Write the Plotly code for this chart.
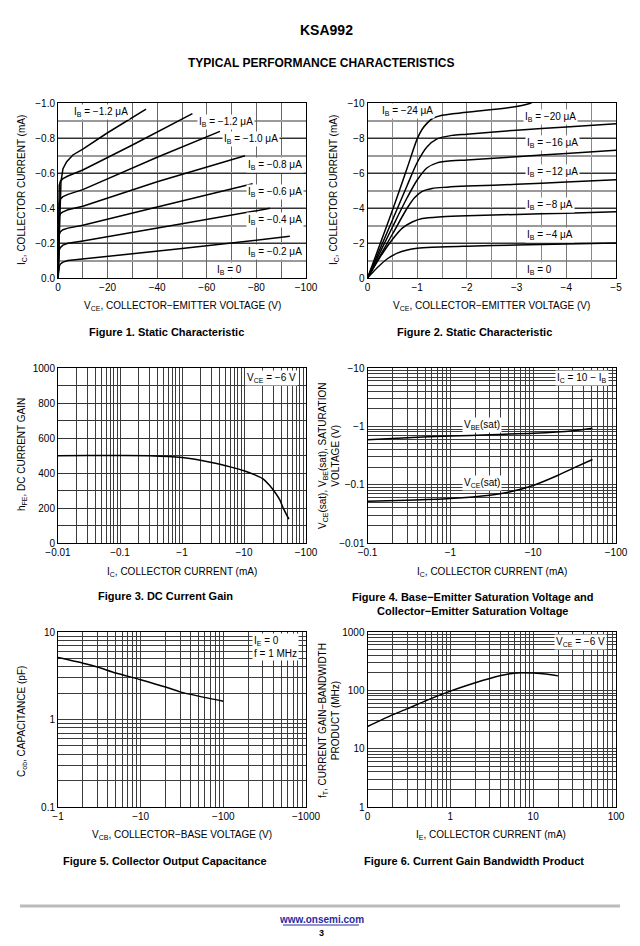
import plotly.graph_objects as go

FONT = "Liberation Sans, Arial, Helvetica, sans-serif"
# the page body adds an 8 px margin, so the figure is sized to fit the window
OFF = 8
W, H = 624, 930

# ---------------- Figure 1: Static characteristic (0 .. -100 V) ----------------
f1_labels = ["−1.2", "−1.2", "−1.0", "−0.8", "−0.6", "−0.4", "−0.2"]
f1_vce = [
    [0, -0.8, -1.2, -2, -3.5, -6, -10, -20, -35.5],
    [0, -0.2, -0.5, -1, -2, -4, -10, -30, -54.2],
    [0, -0.2, -0.5, -1, -2, -4, -10, -40, -65.3],
    [0, -0.2, -0.5, -1, -2, -4, -10, -40, -75.4],
    [0, -0.2, -0.5, -1, -2, -4, -10, -40, -78.5],
    [0, -0.2, -0.5, -1, -2, -4, -10, -50, -85.5],
    [0, -0.3, -0.6, -1, -2, -4, -10, -50, -93.5],
]
f1_ic = [
    [0, -0.3, -0.55, -0.625, -0.665, -0.703, -0.737, -0.83, -0.965],
    [0, -0.3, -0.53, -0.555, -0.568, -0.583, -0.617, -0.76, -0.939],
    [0, -0.25, -0.43, -0.452, -0.465, -0.478, -0.505, -0.69, -0.838],
    [0, -0.2, -0.35, -0.368, -0.378, -0.39, -0.41, -0.55, -0.699],
    [0, -0.15, -0.25, -0.265, -0.276, -0.285, -0.302, -0.406, -0.539],
    [0, -0.1, -0.16, -0.175, -0.188, -0.198, -0.212, -0.31, -0.398],
    [0, -0.05, -0.07, -0.08, -0.091, -0.1, -0.109, -0.168, -0.238],
]
f1_xticks = [0, -20, -40, -60, -80, -100]
f1_yticks = [0, -0.2, -0.4, -0.6, -0.8, -1.0]

# ---------------- Figure 2: Static characteristic (0 .. -5 V) ----------------
f2_labels = ["−24", "−20", "−16", "−12", "−8", "−4"]
f2_vce = [
    [0, -0.5, -0.8, -1.0, -1.1, -1.2, -1.3, -1.5, -2, -3, -3.3],
    [0, -0.5, -0.8, -1.0, -1.2, -1.4, -1.7, -2, -3, -4, -5],
    [0, -0.5, -0.8, -1.0, -1.2, -1.4, -1.7, -2, -3, -4, -5],
    [0, -0.5, -0.8, -0.95, -1.1, -1.3, -1.6, -2, -3, -4, -5],
    [0, -0.3, -0.5, -0.7, -0.9, -1.1, -1.5, -2, -3, -4, -5],
    [0, -0.2, -0.4, -0.6, -0.8, -1.0, -1.3, -2, -3, -4, -5],
]
f2_ic = [
    [0, -3.85, -6.3, -7.95, -8.5, -8.85, -9.1, -9.3, -9.47, -9.8, -10.0],
    [0, -3.3, -5.3, -6.6, -7.5, -7.95, -8.15, -8.22, -8.45, -8.63, -8.82],
    [0, -2.9, -4.6, -5.6, -6.3, -6.58, -6.7, -6.74, -6.93, -7.12, -7.3],
    [0, -2.5, -4.0, -4.6, -4.95, -5.12, -5.19, -5.25, -5.35, -5.48, -5.62],
    [0, -1.4, -2.2, -2.85, -3.2, -3.4, -3.5, -3.56, -3.63, -3.7, -3.78],
    [0, -0.6, -1.1, -1.42, -1.6, -1.7, -1.76, -1.82, -1.88, -1.94, -2.0],
]
f2_xticks = [0, -1, -2, -3, -4, -5]
f2_yticks = [0, -2, -4, -6, -8, -10]

# ---------------- Figure 3: DC current gain ----------------
f3_ic = [-0.01, -0.03, -0.1, -0.3, -1, -3, -6, -10, -20, -26, -33, -38, -42.5, -48, -53]
f3_hfe = [499, 500, 500, 499, 488, 460, 435, 413, 368, 328, 280, 245, 203, 165, 136]
f3_yticks = [0, 200, 400, 600, 800, 1000]

# ---------------- Figure 4: saturation voltages ----------------
f4_ic_be = [-0.1, -0.3, -1, -3, -10, -30, -52]
f4_vbe = [-0.59, -0.64, -0.68, -0.72, -0.76, -0.84, -0.93]
f4_ic_ce = [-0.1, -0.3, -1, -3, -5, -10, -20, -30, -52]
f4_vce = [-0.052, -0.054, -0.058, -0.066, -0.074, -0.097, -0.145, -0.19, -0.27]

# ---------------- Figure 5: output capacitance ----------------
f5_vcb = [-1, -2, -3, -5, -10, -20, -30, -50, -100]
f5_cob = [5.1, 4.4, 3.98, 3.4, 2.85, 2.35, 2.07, 1.85, 1.62]

# ---------------- Figure 6: gain-bandwidth product ----------------
f6_ie = [0.1, 0.2, 0.3, 0.5, 1, 2, 3, 5, 7, 10, 15, 20]
f6_ft = [24, 38, 48, 66, 97, 135, 160, 190, 200, 198, 188, 177]

# log-axis tick labels
f3_xlab = ["−0.01", "−0.1", "−1", "−10", "−100"]
f4_xlab = ["−0.1", "−1", "−10", "−100"]
f4_ylab = ["−0.01", "−0.1", "−1", "−10"]
f5_xlab = ["−1", "−10", "−100", "−1000"]
f5_ylab = ["0.1", "1", "10"]
f6_xlab = ["0", "1", "10", "100"]
f6_ylab = ["1", "10", "100", "1000"]


def px(x):
    return (x - OFF) / W


def py(y):
    return 1 - (y - OFF) / H


TICKFONT = dict(family=FONT, size=10, color="black")
MAJ = "#333333"
MIN = "#9a9a9a"
LOGG = "#3c3c3c"


def base_axis(dom, anchor):
    return dict(domain=dom, anchor=anchor, showline=True, mirror=True, automargin=False,
                linecolor="black", linewidth=1, ticks="", tickfont=TICKFONT,
                zeroline=False, showgrid=True, gridcolor=MAJ, gridwidth=1,
                fixedrange=True)


def log_ticks(e0, e1, labels):
    vals, text = [], []
    for e in range(e0, e1):
        for m in range(1, 10):
            vals.append(m * 10 ** e)
            text.append(labels[e - e0] if m == 1 else "")
    vals.append(10 ** e1)
    text.append(labels[-1])
    return vals, text


fig = go.Figure()
line = dict(color="black", width=1.5)
sline = dict(color="black", width=1.5, shape="spline", smoothing=0.6)

for v, i in zip(f1_vce, f1_ic):
    fig.add_trace(go.Scatter(x=v, y=i, mode="lines", line=line, xaxis="x", yaxis="y",
                             showlegend=False, hoverinfo="skip"))
for v, i in zip(f2_vce, f2_ic):
    fig.add_trace(go.Scatter(x=v, y=i, mode="lines", line=dict(color="black", width=1.5, shape="spline", smoothing=0.8),
                             xaxis="x2", yaxis="y2", showlegend=False, hoverinfo="skip"))
fig.add_trace(go.Scatter(x=[abs(a) for a in f3_ic], y=f3_hfe, mode="lines", line=sline,
                         xaxis="x3", yaxis="y3", showlegend=False, hoverinfo="skip"))
fig.add_trace(go.Scatter(x=[abs(a) for a in f4_ic_be], y=[abs(a) for a in f4_vbe], mode="lines", line=sline,
                         xaxis="x4", yaxis="y4", showlegend=False, hoverinfo="skip"))
fig.add_trace(go.Scatter(x=[abs(a) for a in f4_ic_ce], y=[abs(a) for a in f4_vce], mode="lines", line=sline,
                         xaxis="x4", yaxis="y4", showlegend=False, hoverinfo="skip"))
fig.add_trace(go.Scatter(x=[abs(a) for a in f5_vcb], y=f5_cob, mode="lines", line=sline,
                         xaxis="x5", yaxis="y5", showlegend=False, hoverinfo="skip"))
fig.add_trace(go.Scatter(x=f6_ie, y=f6_ft, mode="lines", line=sline,
                         xaxis="x6", yaxis="y6", showlegend=False, hoverinfo="skip"))

# domains (page pixel boxes)
LX = [px(58), px(306)]
RX = [px(367.5), px(616)]
R1 = [py(278), py(103)]
R2 = [py(543), py(368)]
R3 = [py(807), py(632)]

lay = {}
# Fig 1
ax = base_axis(LX, "y"); ax.update(range=[0, -100], tickvals=f1_xticks, gridcolor="#666666",
                                   minor=dict(dtick=10, tick0=0, showgrid=True, gridcolor="#666666", gridwidth=1))
lay["xaxis"] = ax
ay = base_axis(R1, "x"); ay.update(range=[0, -1.0], tickvals=f1_yticks, tickformat=".1f",
                                   minor=dict(dtick=0.1, tick0=0, showgrid=True, gridcolor=MIN, gridwidth=1.6))
lay["yaxis"] = ay
# Fig 2
ax = base_axis(RX, "y2"); ax.update(range=[0, -5], tickvals=f2_xticks, gridcolor="#777777",
                                    minor=dict(dtick=0.5, tick0=0, showgrid=True, gridcolor="#888888", gridwidth=1.3))
lay["xaxis2"] = ax
ay = base_axis(R1, "x2"); ay.update(range=[0, -10], tickvals=f2_yticks,
                                    minor=dict(dtick=1, tick0=0, showgrid=True, gridcolor=MIN, gridwidth=1.6))
lay["yaxis2"] = ay
# Fig 3
tv, tt = log_ticks(-2, 2, f3_xlab)
ax = base_axis(LX, "y3"); ax.update(type="log", range=[-2, 2], tickvals=tv, ticktext=tt, gridcolor=LOGG)
lay["xaxis3"] = ax
ay = base_axis(R2, "x3"); ay.update(range=[0, 1000], tickvals=f3_yticks,
                                    minor=dict(dtick=100, tick0=0, showgrid=True, gridcolor=MAJ, gridwidth=1))
lay["yaxis3"] = ay
# Fig 4
tv, tt = log_ticks(-1, 2, f4_xlab)
ax = base_axis(RX, "y4"); ax.update(type="log", range=[-1, 2], tickvals=tv, ticktext=tt, gridcolor=LOGG)
lay["xaxis4"] = ax
tv, tt = log_ticks(-2, 1, f4_ylab)
ay = base_axis(R2, "x4"); ay.update(type="log", range=[-2, 1], tickvals=tv, ticktext=tt, gridcolor=LOGG)
lay["yaxis4"] = ay
# Fig 5
tv, tt = log_ticks(0, 3, f5_xlab)
ax = base_axis(LX, "y5"); ax.update(type="log", range=[0, 3], tickvals=tv, ticktext=tt, gridcolor=LOGG)
lay["xaxis5"] = ax
tv, tt = log_ticks(-1, 1, f5_ylab)
ay = base_axis(R3, "x5"); ay.update(type="log", range=[-1, 1], tickvals=tv, ticktext=tt, gridcolor=LOGG)
lay["yaxis5"] = ay
# Fig 6
tv, tt = log_ticks(-1, 2, f6_xlab)
ax = base_axis(RX, "y6"); ax.update(type="log", range=[-1, 2], tickvals=tv, ticktext=tt, gridcolor=LOGG)
lay["xaxis6"] = ax
tv, tt = log_ticks(0, 3, f6_ylab)
ay = base_axis(R3, "x6"); ay.update(type="log", range=[0, 3], tickvals=tv, ticktext=tt, gridcolor=LOGG)
lay["yaxis6"] = ay

fig.update_layout(**lay)

ann = []


def text(x, y, s, size=10, bold=False, angle=0, xanchor="center", bg=None, color="black", align="center"):
    d = dict(x=px(x), y=py(y), xref="paper", yref="paper", text=("<b>%s</b>" % s) if bold else s,
             showarrow=False, xanchor=xanchor, yanchor="middle", textangle=angle, align=align,
             font=dict(family=FONT, size=size, color=color))
    if bg:
        d.update(bgcolor=bg, borderpad=1)
    ann.append(d)


CAP = 11

# header
text(326, 30, "KSA992", size=14, bold=True)
text(321, 63, "TYPICAL PERFORMANCE CHARACTERISTICS", size=12, bold=True)

# Fig 1 labels
f1_pos = [(72, 112), (197, 122), (222, 139), (246, 165), (246, 192), (246, 220), (246, 252)]
for lab, (x, y) in zip(f1_labels, f1_pos):
    text(x, y, "I<sub>B</sub> = %s μA" % lab, xanchor="left", bg="white")
text(215, 270, "I<sub>B</sub> = 0", xanchor="left", bg="white")
text(22, 190, "I<sub>C</sub>, COLLECTOR CURRENT (mA)", angle=-90)
text(182, 306, "V<sub>CE</sub>, COLLECTOR−EMITTER VOLTAGE (V)")
text(166, 332, "Figure 1. Static Characteristic", size=CAP, bold=True)

# Fig 2 labels
f2_pos = [(380, 111), (523, 117), (525, 143), (525, 172), (525, 205), (525, 235)]
for lab, (x, y) in zip(f2_labels, f2_pos):
    text(x, y, "I<sub>B</sub> = %s μA" % lab, xanchor="left", bg="white")
text(525, 270, "I<sub>B</sub> = 0", xanchor="left", bg="white")
text(334, 190, "I<sub>C</sub>, COLLECTOR CURRENT (mA)", angle=-90)
text(491, 306, "V<sub>CE</sub>, COLLECTOR−EMITTER VOLTAGE (V)")
text(474, 332, "Figure 2. Static Characteristic", size=CAP, bold=True)

# Fig 3
text(245, 378, "V<sub>CE</sub> = −6 V", xanchor="left", bg="white")
text(22, 455, "h<sub>FE</sub>, DC CURRENT GAIN", angle=-90)
text(182, 572, "I<sub>C</sub>, COLLECTOR CURRENT (mA)")
text(165, 596, "Figure 3. DC Current Gain", size=CAP, bold=True)

# Fig 4
text(555, 378, "I<sub>C</sub> = 10 − I<sub>B</sub>", xanchor="left", bg="white")
text(462, 425, "V<sub>BE</sub>(sat)", xanchor="left", bg="white")
text(462, 483, "V<sub>CE</sub>(sat)", xanchor="left", bg="white")
text(329, 455, "V<sub>CE</sub>(sat), V<sub>BE</sub>(sat), SATURATION<br>VOLTAGE (V)", angle=-90)
text(492, 572, "I<sub>C</sub>, COLLECTOR CURRENT (mA)")
text(473, 604, "Figure 4. Base−Emitter Saturation Voltage and<br>Collector−Emitter Saturation Voltage", size=CAP, bold=True)

# Fig 5
text(252, 647, "I<sub>E</sub> = 0<br>f = 1 MHz", xanchor="left", bg="white", align="left")
text(22, 722, "C<sub>ob</sub>, CAPACITANCE (pF)", angle=-90)
text(182, 835, "V<sub>CB</sub>, COLLECTOR−BASE VOLTAGE (V)")
text(165, 861, "Figure 5. Collector Output Capacitance", size=CAP, bold=True)

# Fig 6
text(554, 642, "V<sub>CE</sub> = −6 V", xanchor="left", bg="white")
text(329, 720, "f<sub>T</sub>, CURRENT GAIN−BANDWIDTH<br>PRODUCT (MHz)", angle=-90)
text(491, 835, "I<sub>E</sub>, COLLECTOR CURRENT (mA)")
text(474, 861, "Figure 6. Current Gain Bandwidth Product", size=CAP, bold=True)

# footer
text(321, 919, "www.onsemi.com", size=10, bold=True, color="#2a2aa0")
text(321, 933, "3", size=9, bold=True)

fig.update_layout(
    annotations=ann,
    shapes=[
        dict(type="line", xref="paper", yref="paper", x0=px(20), x1=px(620), y0=py(906), y1=py(906),
             line=dict(color="#bbbbbb", width=3)),
        dict(type="line", xref="paper", yref="paper", x0=px(283), x1=px(359), y0=py(925), y1=py(925),
             line=dict(color="#2a2aa0", width=1)),
    ],
    width=W, height=H, margin=dict(l=0, r=0, t=0, b=0, autoexpand=False),
    paper_bgcolor="white", plot_bgcolor="white",
    font=dict(family=FONT, size=10, color="black"),
    showlegend=False,
)

fig.write_html("out.html", config={"displayModeBar": False})
